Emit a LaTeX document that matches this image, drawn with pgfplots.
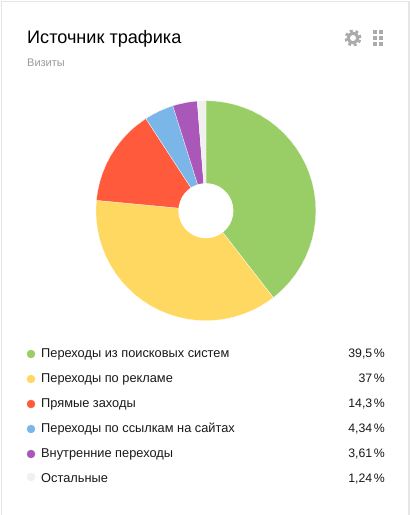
\documentclass[border=0pt]{standalone}
\usepackage{pgfplots}
\pgfplotsset{compat=1.18}
\usepackage{fontspec}
\setmainfont{Liberation Sans}
\definecolor{cg}{HTML}{99CE66}
\definecolor{cy}{HTML}{FFD862}
\definecolor{cr}{HTML}{FF5A3C}
\definecolor{cb}{HTML}{7AB6E8}
\definecolor{cp}{HTML}{A957B8}
\definecolor{co}{HTML}{F0F0EE}
\definecolor{frame}{HTML}{E6E6E6}
\definecolor{icon}{HTML}{ABABAB}
\begin{document}
\begin{tikzpicture}[x=1pt,y=1pt]
\path[use as bounding box] (0,0) rectangle (410,515);
\fill[white] (0,0) rectangle (410,515);
\draw[frame,line width=1.6pt] (1.5,0) -- (1.5,513.5) -- (409,513.5) -- (409,0);
% donut: each slice from the percentage
\begin{axis}[at={(205.9,304.3)},anchor=center,hide axis,scale only axis,x=1pt,y=1pt,
  xmin=-115,xmax=115,ymin=-115,ymax=115,clip=false]
\addplot[fill=cg,draw=white,line width=0.25pt,data cs=polar] coordinates {(0,0)(90,110)(85,110)(80,110)(75,110)(70,110)(65,110)(60,110)(55,110)(50,110)(45,110)(40,110)(35,110)(30,110)(25,110)(20,110)(15,110)(10,110)(5,110)(0,110)(-5,110)(-10,110)(-15,110)(-20,110)(-25,110)(-30,110)(-35,110)(-40,110)(-45,110)(-50,110)(-52.2,110)} -- cycle;
\addplot[fill=cy,draw=white,line width=0.25pt,data cs=polar] coordinates {(0,0)(-52.2,110)(-55,110)(-60,110)(-65,110)(-70,110)(-75,110)(-80,110)(-85,110)(-90,110)(-95,110)(-100,110)(-105,110)(-110,110)(-115,110)(-120,110)(-125,110)(-130,110)(-135,110)(-140,110)(-145,110)(-150,110)(-155,110)(-160,110)(-165,110)(-170,110)(-175,110)(-180,110)(-185.4,110)} -- cycle;
\addplot[fill=cr,draw=white,line width=0.25pt,data cs=polar] coordinates {(0,0)(-185.4,110)(-190,110)(-195,110)(-200,110)(-205,110)(-210,110)(-215,110)(-220,110)(-225,110)(-230,110)(-236.9,110)} -- cycle;
\addplot[fill=cb,draw=white,line width=0.25pt,data cs=polar] coordinates {(0,0)(-236.9,110)(-240,110)(-245,110)(-250,110)(-252.5,110)} -- cycle;
\addplot[fill=cp,draw=white,line width=0.25pt,data cs=polar] coordinates {(0,0)(-252.5,110)(-255,110)(-260,110)(-265.5,110)} -- cycle;
\addplot[fill=co,draw=white,line width=0.25pt,data cs=polar] coordinates {(0,0)(-265.5,110)(-268,110)(-270,110)} -- cycle;
\addplot[fill=white,draw=none,data cs=polar] coordinates {(0,27.5)(10,27.5)(20,27.5)(30,27.5)(40,27.5)(50,27.5)(60,27.5)(70,27.5)(80,27.5)(90,27.5)(100,27.5)(110,27.5)(120,27.5)(130,27.5)(140,27.5)(150,27.5)(160,27.5)(170,27.5)(180,27.5)(190,27.5)(200,27.5)(210,27.5)(220,27.5)(230,27.5)(240,27.5)(250,27.5)(260,27.5)(270,27.5)(280,27.5)(290,27.5)(300,27.5)(310,27.5)(320,27.5)(330,27.5)(340,27.5)(350,27.5)} -- cycle;
\end{axis}
% legend markers
\begin{axis}[at={(0,0)},anchor=south west,hide axis,scale only axis,x=1pt,y=1pt,
  xmin=0,xmax=410,ymin=0,ymax=515,clip=false]
\addplot[only marks,mark=*,mark size=4pt,cg,mark options={draw=none,fill=cg}] coordinates {(31,161)};
\addplot[only marks,mark=*,mark size=4pt,cy,mark options={draw=none,fill=cy}] coordinates {(31,136)};
\addplot[only marks,mark=*,mark size=4pt,cr,mark options={draw=none,fill=cr}] coordinates {(31,111)};
\addplot[only marks,mark=*,mark size=4pt,cb,mark options={draw=none,fill=cb}] coordinates {(31,86)};
\addplot[only marks,mark=*,mark size=4pt,cp,mark options={draw=none,fill=cp}] coordinates {(31,61)};
\addplot[only marks,mark=*,mark size=4pt,co,mark options={draw=none,fill=co}] coordinates {(31,38)};
\end{axis}
\node[anchor=base west,inner sep=0,font=\fontsize{18.1}{20}\selectfont] at (27,471) {Источник трафика};
\node[anchor=base west,inner sep=0,text=icon!90!black,font=\fontsize{11}{13}\selectfont] at (27,448.5) {Визиты};
\foreach \y/\a/\b in {160.5/Переходы из поисковых систем/{39,5\kern1.6pt\%},135.5/Переходы по рекламе/{37\kern1.6pt\%},110.5/Прямые заходы/{14,3\kern1.6pt\%},85.5/Переходы по ссылкам на сайтах/{4,34\kern1.6pt\%},60.5/Внутренние переходы/{3,61\kern1.6pt\%},35.5/Остальные/{1,24\kern1.6pt\%}}{
  \node[anchor=mid west,inner sep=0,font=\fontsize{12.8}{15}\selectfont,text=black!90] at (41,\y) {\a};
  \node[anchor=mid east,inner sep=0,font=\fontsize{12.3}{15}\selectfont,text=black!90] at (385,\y) {\b};
}
% icons
\fill[icon] (353,477) circle (6.2);
\draw[icon,line width=2.4pt,dash pattern=on 2.87pt off 2.87pt] (353,477) circle (7.2);
\fill[white] (353,477) circle (3);
\foreach \i in {0,1}\foreach \j in {0,1,2}{\fill[icon] ({372.5+\i*6},{469+\j*6}) rectangle +(4.2,4.2);}
\end{tikzpicture}
\end{document}
